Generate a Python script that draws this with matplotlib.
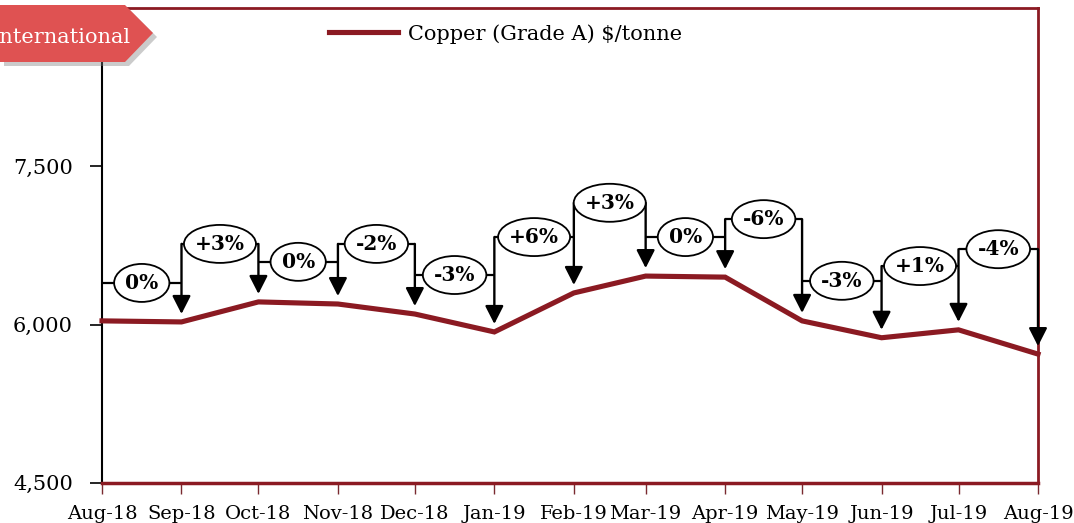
import matplotlib
matplotlib.use('Agg')
import matplotlib.pyplot as plt
import matplotlib.dates as mdates
from matplotlib.patches import Polygon
from matplotlib.path import Path
from matplotlib.transforms import Affine2D
from matplotlib.ticker import FuncFormatter
import pandas as pd

# ---------------- data ----------------
months = ['2018-08-01', '2018-09-01', '2018-10-01', '2018-11-01', '2018-12-01',
          '2019-01-01', '2019-02-01', '2019-03-01', '2019-04-01', '2019-05-01',
          '2019-06-01', '2019-07-01', '2019-08-01']
prices = [6035, 6025, 6215, 6195, 6100, 5930, 6300, 6460, 6450, 6035, 5875, 5950, 5720]
changes = ['0%', '+3%', '0%', '-2%', '-3%', '+6%', '+3%', '0%', '-6%', '-3%', '+1%', '-4%']
label_levels = [6395, 6765, 6595, 6765, 6470, 6830, 7155, 6830, 7000, 6415, 6555, 6715]
yticks = [4500, 6000, 7500]
series_name = 'Copper (Grade A) $/tonne'
tag_text = 'International'

plt.rcParams['font.family'] = ['DejaVu Serif']

W, H = 1074, 523
fig = plt.figure(figsize=(W / 100, H / 100), dpi=100)
ax = fig.add_axes([102 / W, 1 - 482.7 / H, 936 / W, (482.7 - 8.3) / H])

line_color = '#8B1A22'
dates = pd.to_datetime(months)

ax.plot(dates, prices, color=line_color, lw=3.7, solid_joinstyle='miter',
        zorder=3, clip_on=False, label=series_name)
ax.set_xlim(dates[0], dates[-1])
ax.set_ylim(4500, 9000)
ax.set_yticks(yticks)
ax.yaxis.set_major_formatter(FuncFormatter(lambda v, p: f'{v:,.0f}'))
ax.set_xticks(dates)
ax.xaxis.set_major_formatter(mdates.DateFormatter('%b-%y'))

# gap between arrow tip and line (8 px)
y0, y1 = ax.get_ylim()
gap = 8 / ax.bbox.height * (y1 - y0)


def ellipse_box(x0, y0, width, height, mutation_size):
    """Ellipse around text: fixed height, width = text width + padding."""
    scale = fig.dpi / 100.0
    a = width / 2 + 11 * scale
    b = 19 * scale
    cx, cy = x0 + width / 2, y0 + height / 2
    return Affine2D().scale(a, b).translate(cx, cy).transform_path(Path.unit_circle())


# callouts
for i in range(len(changes)):
    x0, x1 = dates[i], dates[i + 1]
    L = label_levels[i]
    ax.plot([x0, x1], [L, L], color='black', lw=1.6, zorder=4, solid_capstyle='butt')
    xm = x0 + (x1 - x0) / 2
    ax.text(xm, L, changes[i], ha='center', va='center', fontsize=14.5,
            fontweight='bold', color='black', zorder=6,
            bbox=dict(boxstyle=ellipse_box, fc='white', ec='black', lw=1.3))

for j in range(1, len(dates)):
    top = label_levels[j - 1]
    if j < len(label_levels):
        top = max(top, label_levels[j])
    ax.annotate('', xy=(dates[j], prices[j] + gap), xytext=(dates[j], top),
                arrowprops=dict(arrowstyle='-|>,head_length=0.55,head_width=0.28',
                                mutation_scale=20, color='black', lw=1.7,
                                shrinkA=0, shrinkB=0),
                zorder=5)

# spines
ax.spines['left'].set_color('black')
ax.spines['left'].set_linewidth(1.5)
ax.spines['bottom'].set_color(line_color)
ax.spines['bottom'].set_linewidth(2.5)
ax.spines['top'].set_color(line_color)
ax.spines['top'].set_linewidth(2)
ax.spines['right'].set_color(line_color)
ax.spines['right'].set_linewidth(2)

ax.tick_params(axis='y', length=9, width=1.2, color='black', pad=12,
               labelsize=15, labelcolor='black')
ax.tick_params(axis='x', length=8, width=1.0, color='#7a2a30', pad=8,
               labelsize=14, labelcolor='black')

# legend
ax.legend(loc='upper left', bbox_to_anchor=(329 / W, 1 - 24 / H),
          bbox_transform=fig.transFigure, frameon=False, handlelength=3.3,
          handletextpad=0.5, borderpad=0, borderaxespad=0, fontsize=15)

# "International" tag
def fpt(px, py):
    return (px / W, 1 - py / H)

tag_pts = [(0, 5), (125, 5), (153, 33), (125, 62), (0, 62)]
shadow = Polygon([fpt(x + 4, y + 4) for x, y in tag_pts], closed=True,
                 transform=fig.transFigure, fc='#7f7f7f', ec='none', alpha=0.4, zorder=9)
tag = Polygon([fpt(x, y) for x, y in tag_pts], closed=True,
              transform=fig.transFigure, fc='#DF5252', ec='none', zorder=10)
fig.patches.extend([shadow, tag])
fig.text(131 / W, 1 - 43 / H, tag_text, ha='right', va='baseline', color='white',
         fontsize=15, zorder=11)

fig.savefig('out.png', dpi=100)
